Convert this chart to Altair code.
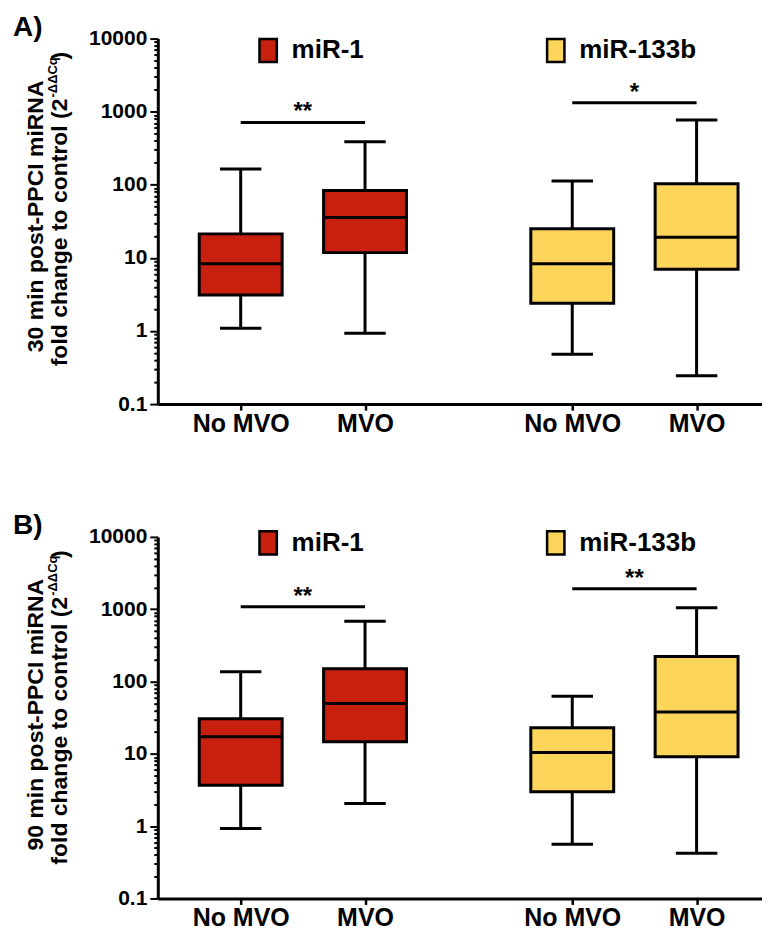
import altair as alt
import pandas as pd

# ---------------- data ----------------
MIRNA = ["miR-1", "miR-1", "miR-133b", "miR-133b"]
GROUP = ["No MVO", "MVO", "No MVO", "MVO"]

# Panel A : 30 min post-PPCI
A_MIN = [1.09, 0.93, 0.48, 0.244]
A_Q1 = [3.1, 11.8, 2.4, 7.0]
A_MED = [8.3, 35.7, 8.3, 19.2]
A_Q3 = [21.3, 83.5, 25.0, 103.0]
A_MAX = [164.0, 388.0, 113.0, 769.0]
A_SIG_Y = [713.0, 1327.0]
A_SIG_TXT = ["**", "*"]

# Panel B : 90 min post-PPCI
B_MIN = [0.93, 2.06, 0.56, 0.42]
B_Q1 = [3.69, 14.7, 2.98, 9.1]
B_MED = [17.2, 49.8, 10.4, 38.0]
B_Q3 = [30.5, 150.0, 22.9, 222.0]
B_MAX = [136.0, 684.0, 62.8, 1046.0]
B_SIG_Y = [1080.0, 1916.0]
B_SIG_TXT = ["**", "**"]

SIG_MIRNA = ["miR-1", "miR-133b"]
COLORS = ["#C8200E", "#FCD55A"]
MAJOR = [0.1, 1, 10, 100, 1000, 10000]

# ---------------- layout helpers ----------------
FONT = "Liberation Sans"
BASE = {"miR-1": 2, "miR-133b": 10}
SHIFT = {"No MVO": 0, "MVO": 3}
W = 605
XMAX = W / 41.5

TICKS_Y = sorted(set([round(m * 10 ** e, 6) for e in range(-1, 4) for m in range(1, 10)] + [10000]))
major_list = "[" + ",".join(str(v) for v in MAJOR) + "]"

x_positions = [BASE[m] + SHIFT[g] for m, g in zip(MIRNA, GROUP)]
label_expr = " : ".join(
    f"datum.value == {p} ? '{g}'" for p, g in zip(x_positions, GROUP)
) + " : ''"

x_scale = alt.Scale(domain=[0, XMAX], nice=False, zero=False)
y_scale = alt.Scale(type="log", domain=[0.1, 10000], nice=False)
color_scale = alt.Scale(domain=["miR-1", "miR-133b"], range=COLORS)

x_axis = alt.Axis(
    title=None, values=x_positions, labelExpr=label_expr, tickSize=6, tickWidth=2.5,
    labelFontSize=25, labelPadding=1, labelFlush=False, labelOverlap=False,
)
y_axis = alt.Axis(
    title=None, values=TICKS_Y, format="~g",
    labelExpr=f"indexof({major_list}, datum.value) >= 0 ? datum.label : ''",
    tickSize={"condition": {"test": f"indexof({major_list}, datum.value) >= 0", "value": 8}, "value": 4},
    tickWidth=2, labelFontSize=21, labelPadding=3, labelFlush=False, labelOverlap=False,
)


def make_df(mins, q1, med, q3, maxs):
    df = pd.DataFrame(dict(mirna=MIRNA, group=GROUP, lo=mins, q1=q1, med=med, q3=q3, hi=maxs))
    df["pos"] = df["mirna"].map(BASE) + df["group"].map(SHIFT)
    df["xl"] = df["pos"] - 1
    df["xr"] = df["pos"] + 1
    df["cl"] = df["pos"] - 0.5
    df["cr"] = df["pos"] + 0.5
    return df


def panel(df, sig_y, sig_txt, letter, line1, height, legend_y):
    base = alt.Chart(df)
    X = lambda f: alt.X(f, scale=x_scale, axis=x_axis)
    Y = lambda f: alt.Y(f, scale=y_scale, axis=y_axis)
    rule = dict(color="black", strokeWidth=3)

    w_lo = base.mark_rule(**rule).encode(x=X("pos:Q"), y=Y("lo:Q"), y2="q1:Q")
    w_hi = base.mark_rule(**rule).encode(x=X("pos:Q"), y=Y("q3:Q"), y2="hi:Q")
    c_lo = base.mark_rule(**rule).encode(x=X("cl:Q"), x2="cr:Q", y=Y("lo:Q"))
    c_hi = base.mark_rule(**rule).encode(x=X("cl:Q"), x2="cr:Q", y=Y("hi:Q"))
    box = base.mark_rect(stroke="black", strokeWidth=3).encode(
        x=X("xl:Q"), x2="xr:Q", y=Y("q1:Q"), y2="q3:Q",
        fill=alt.Fill("mirna:N", scale=color_scale, legend=alt.Legend(
            orient="none", legendX=95, legendY=legend_y, direction="horizontal",
            title=None, symbolType="M-0.62,-0.83H0.62V0.83H-0.62Z", symbolSize=784,
            symbolStrokeColor="black", symbolStrokeWidth=2.5, symbolOpacity=1,
            labelFont=FONT, labelFontSize=26, labelFontWeight="bold", labelColor="black",
            labelOffset=8, columnPadding=176, padding=0, labelLimit=0,
        )),
    )
    med = base.mark_rule(**rule).encode(x=X("xl:Q"), x2="xr:Q", y=Y("med:Q"))

    sdf = pd.DataFrame(dict(mirna=SIG_MIRNA, y=sig_y, stars=sig_txt))
    sdf["x1"] = sdf["mirna"].map(BASE) + SHIFT["No MVO"]
    sdf["x2"] = sdf["mirna"].map(BASE) + SHIFT["MVO"]
    sdf["xm"] = (sdf["x1"] + sdf["x2"]) / 2
    sbase = alt.Chart(sdf)
    s_rule = sbase.mark_rule(**rule).encode(x=X("x1:Q"), x2="x2:Q", y=Y("y:Q"))
    s_text = sbase.mark_text(font=FONT, fontSize=24, fontWeight="bold", baseline="alphabetic",
                             dy=-3, color="black").encode(x=X("xm:Q"), y=Y("y:Q"), text="stars:N")

    # panel letter and rotated y-axis title
    lab = alt.Chart(pd.DataFrame({"t": [letter]})).mark_text(
        font=FONT, fontSize=28, fontWeight="bold", align="left", baseline="alphabetic", color="black"
    ).encode(text="t:N", x=alt.value(-145), y=alt.value(-3))
    t1 = alt.Chart(pd.DataFrame({"t": [line1]})).mark_text(
        font=FONT, fontSize=23, fontWeight="bold", angle=270, align="center", baseline="alphabetic", color="black"
    ).encode(text="t:N", x=alt.value(-115), y=alt.value(178))
    t2 = alt.Chart(pd.DataFrame({"t": ["fold change to control (2"]})).mark_text(
        font=FONT, fontSize=23, fontWeight="bold", angle=270, align="right", baseline="alphabetic", color="black"
    ).encode(text="t:N", x=alt.value(-91), y=alt.value(60))
    t3 = alt.Chart(pd.DataFrame({"t": ["-ΔΔCq"]})).mark_text(
        font=FONT, fontSize=13, fontWeight="bold", angle=270, align="left", baseline="alphabetic", color="black"
    ).encode(text="t:N", x=alt.value(-101), y=alt.value(59))
    t4 = alt.Chart(pd.DataFrame({"t": [")"]})).mark_text(
        font=FONT, fontSize=23, fontWeight="bold", angle=270, align="left", baseline="alphabetic", color="black"
    ).encode(text="t:N", x=alt.value(-91), y=alt.value(21))

    return alt.layer(w_lo, w_hi, c_lo, c_hi, box, med, s_rule, s_text, lab, t1, t2, t3, t4).properties(
        width=W, height=height
    )


dfA = make_df(A_MIN, A_Q1, A_MED, A_Q3, A_MAX)
dfB = make_df(B_MIN, B_Q1, B_MED, B_Q3, B_MAX)

pA = panel(dfA, A_SIG_Y, A_SIG_TXT, "A)", "30 min post-PPCI miRNA", 366, -4)
pB = panel(dfB, B_SIG_Y, B_SIG_TXT, "B)", "90 min post-PPCI miRNA", 362, -10)

chart = alt.vconcat(pA, pB, spacing=76).resolve_legend(fill="independent").properties(
    padding={"left": 5, "top": 5, "right": 0, "bottom": 0}
).configure_view(stroke=None).configure_axis(
    grid=False, domainColor="black", domainWidth=3, tickColor="black",
    labelColor="black", labelFont=FONT, labelFontWeight="bold",
)

chart.save("out.html", embed_options={"renderer": "svg", "actions": False})
